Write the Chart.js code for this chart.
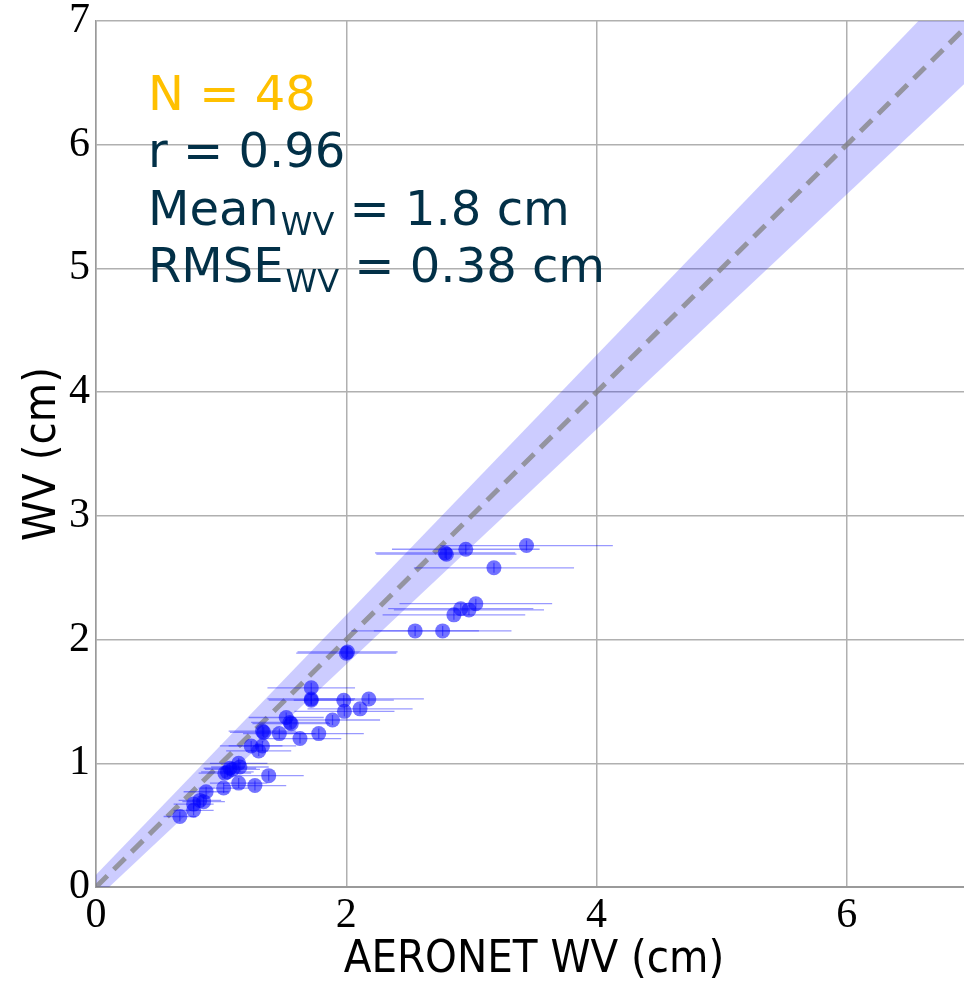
<!DOCTYPE html>
<html>
<head>
<meta charset="utf-8">
<script src="https://cdn.jsdelivr.net/npm/chart.js@4"></script>
<style>
  html, body { margin: 0; padding: 0; background: #fff; overflow: hidden; }
  #wrap { width: 980px; height: 987px; }
</style>
</head>
<body>
<div id="wrap"><canvas id="wvChart" width="980" height="987"></canvas></div>
<script>
// AERONET WV (x) vs retrieved WV (y), in cm, with horizontal error bars
const aeronetWV = [2.01, 1.72, 1.72, 1.98, 2.18, 1.985, 2.11, 1.89, 1.52, 1.55,
                   1.34, 1.465, 1.63, 1.78, 1.24, 1.33, 1.30, 1.14, 1.15, 1.07,
                   1.03, 1.38, 1.02, 1.14, 1.27, 0.88, 0.86, 0.78, 0.78, 0.67,
                   2.79, 2.955, 3.44, 3.18, 3.035, 2.915, 2.98, 2.86, 2.55, 2.77,
                   2.80, 2.00, 1.72, 1.56, 1.05, 1.33, 1.09, 0.83];
const retrievedWV = [1.90, 1.61, 1.52, 1.51, 1.52, 1.42, 1.44, 1.35, 1.37, 1.33,
                     1.25, 1.24, 1.20, 1.24, 1.14, 1.14, 1.10, 1.00, 0.97, 0.96,
                     0.92, 0.90, 0.80, 0.84, 0.82, 0.77, 0.69, 0.67, 0.62, 0.57,
                     2.70, 2.73, 2.76, 2.58, 2.29, 2.25, 2.24, 2.20, 2.07, 2.07,
                     2.69, 1.89, 1.51, 1.32, 0.93, 1.26, 0.95, 0.70];
const aeronetErr = [0.40, 0.35, 0.35, 0.40, 0.44, 0.40, 0.42, 0.38, 0.30, 0.31,
                    0.27, 0.29, 0.33, 0.36, 0.25, 0.27, 0.26, 0.23, 0.23, 0.21,
                    0.21, 0.28, 0.20, 0.23, 0.25, 0.18, 0.17, 0.16, 0.16, 0.13,
                    0.56, 0.59, 0.69, 0.64, 0.61, 0.58, 0.60, 0.57, 0.51, 0.55,
                    0.56, 0.40, 0.34, 0.31, 0.21, 0.27, 0.22, 0.17];

// 1:1 line and its uncertainty envelope
const lineX = [0, 7];
const lineY = [0, 7];
const envLow = [-0.1, 6.55];
const envHigh = [0.1, 7.45];

// stats box
const statLines = [
    { main: 'N = 48', sub: '', tail: '', color: '#FFC000' },
    { main: 'r = 0.96', sub: '', tail: '', color: '#023047' },
    { main: 'Mean', sub: 'WV', tail: ' = 1.8 cm', color: '#023047' },
    { main: 'RMSE', sub: 'WV', tail: ' = 0.38 cm', color: '#023047' }
];

const toPts = (xs, ys) => xs.map((x, i) => ({ x: x, y: ys[i] }));

const tickFont = { family: '"Liberation Serif", "DejaVu Serif", serif', size: 42 };
const titleFont = { family: '"DejaVu Sans Condensed", "Liberation Sans Narrow", "DejaVu Sans", sans-serif', size: 45 };

// horizontal error bars, drawn just before the points
const errorBars = {
    id: 'errorBars',
    beforeDatasetDraw(chart, args) {
        if (args.index !== 3) return;
        const ctx = chart.ctx;
        const xs = chart.scales.x, ys = chart.scales.y;
        ctx.save();
        ctx.beginPath();
        ctx.rect(chart.chartArea.left, chart.chartArea.top,
                 chart.chartArea.right - chart.chartArea.left,
                 chart.chartArea.bottom - chart.chartArea.top);
        ctx.clip();
        ctx.lineWidth = 1.3;
        for (let i = 0; i < aeronetWV.length; i++) {
            const py = ys.getPixelForValue(retrievedWV[i]);
            const px = xs.getPixelForValue(aeronetWV[i]);
            ctx.strokeStyle = 'rgba(0, 0, 255, 0.4)';
            ctx.beginPath();
            ctx.moveTo(xs.getPixelForValue(aeronetWV[i] - aeronetErr[i]), py);
            ctx.lineTo(xs.getPixelForValue(aeronetWV[i] + aeronetErr[i]), py);
            ctx.stroke();
            ctx.strokeStyle = 'rgba(0, 0, 255, 0.45)';
            ctx.beginPath();
            ctx.moveTo(px, py - 5);
            ctx.lineTo(px, py + 5);
            ctx.stroke();
        }
        ctx.restore();
    }
};

// N, r, Mean, RMSE text
const statsText = {
    id: 'statsText',
    afterDraw(chart) {
        const ctx = chart.ctx;
        const x0 = 148;
        let base = 110;
        ctx.save();
        ctx.textBaseline = 'alphabetic';
        ctx.textAlign = 'left';
        statLines.forEach(l => {
            ctx.fillStyle = l.color;
            ctx.font = '48px "DejaVu Sans", Verdana, sans-serif';
            ctx.fillText(l.main, x0, base);
            let x = x0 + ctx.measureText(l.main).width;
            if (l.sub) {
                ctx.font = '32px "DejaVu Sans", Verdana, sans-serif';
                ctx.fillText(l.sub, x + 2, base + 10);
                x += 2 + ctx.measureText(l.sub).width;
                ctx.font = '48px "DejaVu Sans", Verdana, sans-serif';
                ctx.fillText(l.tail, x, base);
            }
            base += 57.3;
        });
        ctx.restore();
    }
};

const ctx = document.getElementById('wvChart').getContext('2d');
new Chart(ctx, {
    type: 'scatter',
    data: {
        datasets: [
            {
                data: toPts(lineX, envLow),
                showLine: true,
                borderWidth: 0,
                borderColor: 'rgba(0,0,0,0)',
                pointRadius: 0,
                order: 3
            },
            {
                data: toPts(lineX, envHigh),
                showLine: true,
                borderWidth: 0,
                borderColor: 'rgba(0,0,0,0)',
                backgroundColor: 'rgba(0, 0, 255, 0.2)',
                fill: '-1',
                pointRadius: 0,
                order: 2
            },
            {
                data: toPts(lineX, lineY),
                showLine: true,
                borderColor: 'rgba(128, 128, 128, 0.75)',
                borderWidth: 5,
                borderDash: [16, 9],
                pointRadius: 0,
                order: 1
            },
            {
                data: toPts(aeronetWV, retrievedWV),
                backgroundColor: 'rgba(0, 0, 255, 0.55)',
                borderWidth: 0,
                pointRadius: 7.5,
                pointHoverRadius: 7.5,
                order: 0
            }
        ]
    },
    options: {
        responsive: false,
        animation: false,
        events: [],
        layout: { padding: { top: 21, right: 8, left: 0, bottom: 0 } },
        plugins: {
            legend: { display: false },
            tooltip: { enabled: false }
        },
        scales: {
            x: {
                type: 'linear',
                min: 0,
                max: 7,
                afterFit: s => { s.height = 100; s.paddingLeft = 0; s.paddingRight = 0; },
                grid: { color: '#b0b0b0', lineWidth: 1.5, drawTicks: false },
                border: { color: '#9a9a9a', width: 2 },
                ticks: { stepSize: 2, includeBounds: false, padding: 4, color: '#000', font: tickFont, maxRotation: 0 },
                title: { display: true, text: 'AERONET WV (cm)', color: '#000', font: titleFont, padding: { top: 0, bottom: 0 } }
            },
            y: {
                type: 'linear',
                min: 0,
                max: 7,
                afterFit: s => { s.width = 96; s.paddingTop = 0; s.paddingBottom = 0; },
                grid: { color: '#b0b0b0', lineWidth: 1.5, drawTicks: false },
                border: { color: '#9a9a9a', width: 1.5 },
                ticks: { stepSize: 1, padding: 6, color: '#000', font: tickFont },
                title: { display: true, text: 'WV (cm)', color: '#000', font: titleFont, padding: { top: 16, bottom: 0 } }
            }
        }
    },
    plugins: [errorBars, statsText]
});
</script>
</body>
</html>
